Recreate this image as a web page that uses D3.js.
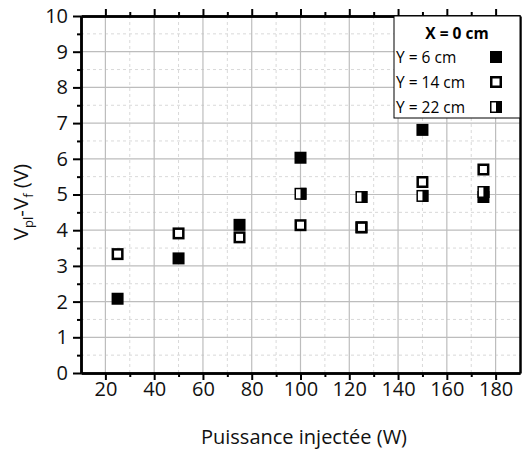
<!DOCTYPE html>
<html>
<head>
<meta charset="utf-8">
<script src="https://cdn.jsdelivr.net/npm/d3@7"></script>
<style>
  html, body { margin: 0; padding: 0; background: #fff; }
  svg { display: block; font-family: "Open Sans", Lato, sans-serif; }
</style>
</head>
<body>
<svg id="chart" width="522" height="452"></svg>
<script>
// Plasma potential difference vs injected power, X = 0 cm
const powerY6  = [25, 50, 75, 100, 125, 150, 175];
const valuesY6 = [2.08, 3.21, 4.15, 6.03, 4.08, 6.81, 4.93];
const powerY14  = [25, 50, 75, 100, 125, 150, 175];
const valuesY14 = [3.33, 3.91, 3.80, 4.14, 4.08, 5.35, 5.70];
const powerY22  = [100, 125, 150, 175];
const valuesY22 = [5.02, 4.93, 4.96, 5.07];
const seriesLabels = ["Y = 6 cm", "Y = 14 cm", "Y = 22 cm"];
const legendTitle = "X = 0 cm";
const xTicks = [20, 40, 60, 80, 100, 120, 140, 160, 180];
const yTicks = [0, 1, 2, 3, 4, 5, 6, 7, 8, 9, 10];

const svg = d3.select("#chart");
const L = 81, R = 520, T = 16, B = 373;
const x = d3.scaleLinear().domain([10, 190]).range([L, R]);
const y = d3.scaleLinear().domain([0, 10]).range([B, T]);

// grid: dashed minor lines, solid major lines
const g = svg.append("g");
const xMinor = d3.range(30, 190, 20);
const yMinor = d3.range(0.5, 10, 1);
g.selectAll(".xm").data(xMinor).join("line")
  .attr("x1", d => x(d)).attr("x2", d => x(d)).attr("y1", T).attr("y2", B)
  .attr("stroke", "#d9d9d9").attr("stroke-width", 1).attr("stroke-dasharray", "3,3");
g.selectAll(".ym").data(yMinor).join("line")
  .attr("y1", d => y(d)).attr("y2", d => y(d)).attr("x1", L).attr("x2", R)
  .attr("stroke", "#d9d9d9").attr("stroke-width", 1).attr("stroke-dasharray", "3,3");
g.selectAll(".xM").data(xTicks).join("line")
  .attr("x1", d => x(d)).attr("x2", d => x(d)).attr("y1", T).attr("y2", B)
  .attr("stroke", "#bdbdbd").attr("stroke-width", 1.2);
g.selectAll(".yM").data(yTicks.slice(1, -1)).join("line")
  .attr("y1", d => y(d)).attr("y2", d => y(d)).attr("x1", L).attr("x2", R)
  .attr("stroke", "#bdbdbd").attr("stroke-width", 1.2);

// axes
const tickFont = 20;
const axBottom = svg.append("g").attr("transform", `translate(0,${B})`)
  .call(d3.axisBottom(x).tickValues(xTicks).tickSize(7).tickPadding(2).tickSizeOuter(0));
const axBottomMinor = svg.append("g").attr("transform", `translate(0,${B})`)
  .call(d3.axisBottom(x).tickValues(xMinor).tickSize(4).tickFormat("").tickSizeOuter(0));
const axTop = svg.append("g").attr("transform", `translate(0,${T})`)
  .call(d3.axisTop(x).tickValues(xTicks).tickSize(7).tickFormat("").tickSizeOuter(0));
const axTopMinor = svg.append("g").attr("transform", `translate(0,${T})`)
  .call(d3.axisTop(x).tickValues(xMinor).tickSize(4).tickFormat("").tickSizeOuter(0));
const axLeft = svg.append("g").attr("transform", `translate(${L},0)`)
  .call(d3.axisLeft(y).tickValues(yTicks).tickSize(8).tickPadding(5).tickSizeOuter(0));
const axLeftMinor = svg.append("g").attr("transform", `translate(${L},0)`)
  .call(d3.axisLeft(y).tickValues(yMinor).tickSize(4).tickFormat("").tickSizeOuter(0));
const axRight = svg.append("g").attr("transform", `translate(${R},0)`)
  .call(d3.axisRight(y).tickValues([]).tickSizeOuter(0));

[axBottom, axBottomMinor, axTop, axTopMinor, axLeft, axLeftMinor, axRight].forEach(a => {
  a.selectAll(".tick line").attr("stroke", "#000").attr("stroke-width", 2);
  a.select(".domain").attr("stroke", "#000").attr("stroke-width", 2.5);
  a.selectAll("text").attr("font-size", tickFont).attr("fill", "#111")
    .attr("font-family", "'Open Sans', Lato, sans-serif");
});

// markers
const S = 12;
function filled(sel) {
  sel.append("rect").attr("x", -S / 2).attr("y", -S / 2).attr("width", S).attr("height", S)
    .attr("fill", "#000");
}
function open(sel) {
  sel.append("rect").attr("x", -S / 2 + 1.25).attr("y", -S / 2 + 1.25)
    .attr("width", S - 2.5).attr("height", S - 2.5)
    .attr("fill", "#fff").attr("stroke", "#000").attr("stroke-width", 2.5);
}
function half(sel) {
  sel.append("rect").attr("x", -S / 2 + 0.75).attr("y", -S / 2 + 0.75)
    .attr("width", S - 1.5).attr("height", S - 1.5)
    .attr("fill", "#fff").attr("stroke", "#000").attr("stroke-width", 1.5);
  sel.append("rect").attr("x", 0).attr("y", -S / 2).attr("width", S / 2).attr("height", S)
    .attr("fill", "#000");
}

const pts = svg.append("g");
powerY6.forEach((p, i) => pts.append("g")
  .attr("transform", `translate(${x(p)},${y(valuesY6[i])})`).call(filled));
powerY14.forEach((p, i) => pts.append("g")
  .attr("transform", `translate(${x(p)},${y(valuesY14[i])})`).call(open));
powerY22.forEach((p, i) => pts.append("g")
  .attr("transform", `translate(${x(p)},${y(valuesY22[i])})`).call(half));

// legend
const lg = svg.append("g");
lg.append("rect").attr("x", 394).attr("y", T).attr("width", R - 394).attr("height", 102)
  .attr("fill", "#fff").attr("stroke", "#000").attr("stroke-width", 1);
lg.append("text").attr("x", 457).attr("y", 39).attr("text-anchor", "middle")
  .attr("font-size", 15.5).attr("font-weight", "bold").attr("fill", "#000").text(legendTitle);
const markerFns = [filled, open, half];
seriesLabels.forEach((lab, i) => {
  const cy = 57 + i * 25;
  lg.append("text").attr("x", 396).attr("y", cy + 5.5).attr("font-size", 15.5)
    .attr("fill", "#000").text(lab);
  lg.append("g").attr("transform", `translate(496,${cy})`).call(markerFns[i]);
});

// axis titles
svg.append("text").attr("x", 304).attr("y", 444).attr("text-anchor", "middle")
  .attr("font-size", 20).attr("fill", "#111").text("Puissance injectée (W)");

const yt = svg.append("text").attr("transform", "translate(28,202) rotate(-90)")
  .attr("text-anchor", "middle").attr("font-size", 20.5).attr("fill", "#111");
yt.append("tspan").text("V");
yt.append("tspan").attr("font-size", 13).attr("dy", 5).text("pl");
yt.append("tspan").attr("dy", -5).text("-V");
yt.append("tspan").attr("font-size", 13).attr("dy", 5).text("f");
yt.append("tspan").attr("dy", -5).text(" (V)");
</script>
</body>
</html>
